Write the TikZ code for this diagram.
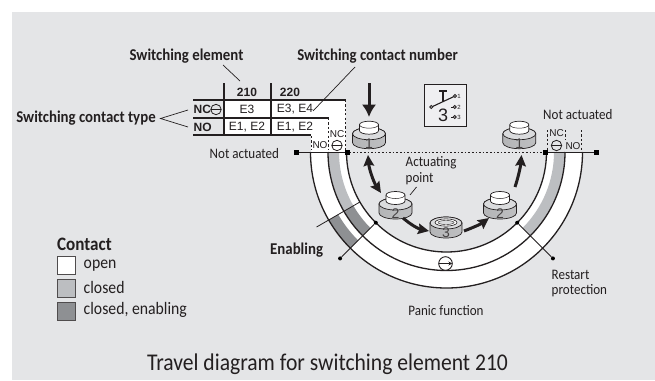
\documentclass[tikz,border=0pt]{standalone}
\usepackage{fontspec}
\setmainfont[FakeStretch=0.9]{Carlito}
\newfontfamily\arialf{Liberation Sans}
\usetikzlibrary{arrows.meta}
\definecolor{bgc}{HTML}{E4E5E7}
\definecolor{lightc}{HTML}{BCBEC1}
\definecolor{darkc}{HTML}{8E9093}
\definecolor{inkc}{HTML}{231F20}
\definecolor{cyld}{HTML}{B4B5B7}
\definecolor{cylm}{HTML}{EEEFF0}
\definecolor{cylr}{HTML}{BEBFC1}
\definecolor{cylt}{HTML}{DADBDD}
\tikzset{
  lab/.style={font=\fontsize{14.5}{16}\selectfont,text=inkc,inner sep=0pt,align=left},
  blab/.style={font=\fontsize{16.5}{18}\selectfont\bfseries,text=inkc,inner sep=0pt},
  cell/.style={font=\arialf\fontsize{12}{13}\selectfont,text=inkc,inner sep=0pt},
  bcell/.style={font=\arialf\bfseries\fontsize{12}{13}\selectfont,text=inkc,inner sep=0pt},
  smallcell/.style={font=\arialf\fontsize{10}{11}\selectfont,text=inkc,inner sep=0pt},
  ringline/.style={line width=1.3pt,inkc},
  tline/.style={line width=1.5pt,inkc},
  leader/.style={line width=0.7pt,inkc},
  dash1/.style={line width=1pt,inkc,dash pattern=on 2.2pt off 2.2pt},
  fat/.style={line width=3pt,inkc,-{Stealth[length=11pt,width=10.5pt,inset=1.5pt]}},
  fatb/.style={line width=3pt,inkc,{Stealth[length=11pt,width=10.5pt,inset=1.5pt]}-{Stealth[length=11pt,width=10.5pt,inset=1.5pt]}},
  sq/.style={fill=black,draw=none,minimum size=5pt,inner sep=0pt,outer sep=0pt},
  dotn/.style={circle,fill=black,draw=none,minimum size=4pt,inner sep=0pt},
  legbox/.style={draw=inkc!80,line width=1pt,minimum width=18pt,minimum height=18pt,inner sep=0pt},
  cylnum/.style={font=\arialf\fontsize{14}{14}\selectfont,text=inkc!85,inner sep=0pt}
}
% band: color, a1, a2, r1, r2
\newcommand{\myband}[5]{\fill[#1] (#2:#4pt) arc[start angle=#2,end angle=#3,radius=#4pt] -- (#3:#5pt) arc[start angle=#3,end angle=#2,radius=#5pt] -- cycle;}
% cylinder: name, x, top y (positive down), number
\newcommand{\mycyl}[4]{%
 \begin{scope}[shift={(#2,-#3)}]
  \shade[left color=cyld,middle color=cylm,right color=cylr,draw=inkc,line width=0.7pt]
    (-16.5,-13) -- (-16.5,-22) arc[start angle=180,end angle=360,x radius=16.5pt,y radius=6pt] -- (16.5,-13) arc[start angle=0,end angle=180,x radius=16.5pt,y radius=6pt] -- cycle;
  \draw[inkc,line width=0.7pt,fill=cylt] (-16.5,-13) arc[start angle=180,end angle=-180,x radius=16.5pt,y radius=6pt];
  \fill[white,draw=inkc,line width=0.7pt] (-9.5,-4) -- (-9.5,-10) arc[start angle=180,end angle=360,x radius=9.5pt,y radius=3.5pt] -- (9.5,-4) arc[start angle=0,end angle=180,x radius=9.5pt,y radius=3.5pt] -- cycle;
  \draw[inkc,line width=0.5pt] (-9.5,-4) arc[start angle=180,end angle=360,x radius=9.5pt,y radius=3.5pt];
  \node[cylnum] (#1) at (0,-22.5) {#4};
 \end{scope}}
\newcommand{\mypanic}[3]{%
 \draw[inkc,line width=0.8pt,fill=#3] (#1,-#2) circle (5.2pt);
 \draw[inkc,line width=0.8pt] (#1-5.2,-#2) -- (#1+5.2,-#2);}
\begin{document}
\begin{tikzpicture}[x=1pt,y=1pt]
\useasboundingbox (0,0) rectangle (655,-380);
\fill[bgc] (12,-12) rectangle (655,-380);

% table whites
\fill[white] (224,-100) -- (345.5,-100) -- (345.5,-152) -- (311,-152) -- (311,-135) -- (224,-135) -- cycle;

% rings
\begin{scope}[shift={(446.5,-152)}]
 \myband{white}{180}{360}{136}{100}
 \myband{lightc}{180}{210}{118.5}{107.5}
 \myband{darkc}{210}{225}{118.5}{107.5}
 \myband{darkc}{210}{225}{136}{125}
 \myband{lightc}{315}{360}{118.5}{107.5}
 \draw[ringline] (180:136pt) arc[start angle=180,end angle=360,radius=136pt];
 \draw[ringline] (180:118.5pt) arc[start angle=180,end angle=360,radius=118.5pt];
 \draw[ringline] (180:100pt) arc[start angle=180,end angle=360,radius=100pt];
 \coordinate (enA) at (210:150pt); \coordinate (enB) at (210:100pt);
 \coordinate (pa) at (225:150.5pt); \coordinate (pb) at (225:100pt);
 \coordinate (ra) at (315:100pt); \coordinate (rb) at (315:150.5pt);
\end{scope}
\draw[inkc,line width=0.8pt] (enA) -- (enB);
\node[dotn] (d1) at (pa) {}; \node[dotn] (d2) at (pb) {};
\node[dotn] (d3) at (ra) {}; \node[dotn] (d4) at (rb) {};
\draw[inkc,line width=0.8pt] (d1) -- (d2);
\draw[inkc,line width=0.8pt] (d3) -- (d4);

% table lines
\draw[tline] (193,-100) -- (345.5,-100);
\draw[tline] (193,-118) -- (328.5,-118);
\draw[tline] (193,-135) -- (311,-135);
\draw[tline] (224,-83) -- (224,-135);
\draw[tline] (271,-83) -- (271,-135);
\draw[dash1] (345.5,-100) -- (345.5,-150);
\draw[dash1] (328.5,-118) -- (328.5,-150);
\draw[dash1] (311,-136) -- (311,-150);
\draw[dash1] (547.5,-130) -- (547.5,-150);
\draw[dash1] (565,-130) -- (565,-140);
\draw[dash1] (581.5,-130) -- (581.5,-150);

% actuated line
\node[sq] (s1) at (296,-152) {};
\node[sq] (s2) at (347,-152) {};
\node[sq] (s3) at (545.5,-152) {};
\node[sq] (s4) at (596,-152) {};
\draw[inkc,line width=1pt] (s1) -- (s2);
\draw[inkc,line width=1pt] (s3) -- (s4);
\draw[inkc,line width=0.9pt,dash pattern=on 1.6pt off 2pt] (s2) -- (s3);

% table text
\node[blab] (t1) at (186.5,-56) {Switching element};
\node[blab] (t2) at (377.5,-56) {Switching contact number};
\node[blab] (t3) at (86,-118) {Switching contact type};
\node[bcell] (h1) at (247,-92) {210};
\node[bcell] (h2) at (290,-92) {220};
\node[bcell,anchor=west] (nc) at (193.5,-109.5) {NC};
\node[bcell,anchor=west] (no) at (193.5,-127) {NO};
\mypanic{216}{109.5}{none}
\node[cell] (c1) at (247,-109.5) {E3};
\node[cell] (c2) at (295,-109.5) {E3, E4};
\node[cell] (c3) at (247,-127) {E1, E2};
\node[cell] (c4) at (295,-127) {E1, E2};
\coordinate (l1a) at (223,-65); \coordinate (l1b) at (240,-81);
\draw[leader] (l1a) -- (l1b);
\coordinate (l2a) at (355,-67); \coordinate (l2b) at (313,-111);
\draw[leader] (l2a) -- (l2b);
\coordinate (l3) at (160.5,-118.5); \coordinate (l3a) at (188,-110); \coordinate (l3b) at (188,-127);
\draw[leader] (l3a) -- (l3) -- (l3b);

% NC/NO in contact rows
\node[smallcell] (n1) at (337,-134) {NC};
\node[smallcell] (n2) at (320,-145) {NO};
\mypanic{337}{145.5}{none}
\node[smallcell] (n3) at (556.5,-133.5) {NC};
\node[smallcell] (n4) at (573,-146) {NO};
\mypanic{556.5}{145.5}{none}

% panic symbol
\draw[inkc,line width=0.9pt,fill=white] (445.5,-263.5) circle (6.8pt);
\draw[inkc,line width=0.9pt,-{Stealth[length=3.5pt,width=4pt]}] (439,-263.5) -- (452,-263.5);

% cylinders
\mycyl{cy1}{369}{120.7}{1}
\mycyl{cy5}{519.3}{120.7}{1}
\mycyl{cy2}{395.5}{191}{2}
\mycyl{cy4}{500}{191}{2}
% cylinder 3
\begin{scope}[shift={(446,-217)}]
  \shade[left color=cyld,middle color=cylm,right color=cylr,draw=inkc,line width=0.7pt]
    (-16,-6) -- (-16,-15) arc[start angle=180,end angle=360,x radius=16pt,y radius=6pt] -- (16,-6) arc[start angle=0,end angle=180,x radius=16pt,y radius=6pt] -- cycle;
  \draw[inkc,line width=0.7pt,fill=cylt] (-16,-6) arc[start angle=180,end angle=-180,x radius=16pt,y radius=6pt];
  \draw[inkc,line width=0.6pt,fill=white] (0,-5.5) ellipse (11pt and 3.6pt);
  \draw[inkc,line width=0.4pt,fill=cylt] (0,-5.5) ellipse (8pt and 2pt);
  \node[cylnum] (cy3) at (0,-16) {3};
\end{scope}

% arrows
\coordinate (a0) at (369,-83); \coordinate (a1) at (369,-117);
\draw[line width=3pt,inkc,-{Latex[length=12.5pt,width=14.5pt]}] (a0) -- (a1);
\coordinate (b0) at (368,-155); \coordinate (b1) at (381,-193);
\draw[fatb] (b0) .. controls (369,-168) and (373,-181) .. (b1);
\coordinate (c0) at (403,-218); \coordinate (c1) at (429,-231);
\draw[fat] (c0) .. controls (411,-225) and (419,-229) .. (c1);
\coordinate (e0) at (464,-231); \coordinate (e1) at (489,-218);
\draw[fat] (e0) .. controls (472,-228) and (481,-224) .. (e1);
\coordinate (f0) at (515,-187); \coordinate (f1) at (521.5,-155);
\draw[fat] (f0) .. controls (518,-178) and (520.5,-167) .. (f1);

% symbol box
\node[draw=inkc,line width=1.5pt,fill=bgc!60!white,minimum width=42pt,minimum height=42pt,inner sep=0pt] (symb) at (445.5,-105.3) {};
\draw[inkc,line width=0.9pt,fill=white] (431.3,-107) circle (1.5pt);
\draw[inkc,line width=1.1pt] (432.6,-106.5) -- (453.8,-96.6);
\draw[inkc,line width=0.9pt,fill=white] (455,-96) circle (1.5pt);
\draw[inkc,line width=1.3pt] (439,-91) -- (447,-91) (443,-91) -- (443,-102);
\foreach \yy/\nn in {96/1,107/2,117/3}{
 \node[font=\arialf\fontsize{6}{6}\selectfont,text=inkc,inner sep=0pt] (sy\nn) at (459,-\yy) {\nn};}
\foreach \yy in {107,117}{
 \draw[inkc,line width=0.9pt] (451,-\yy) -- (453.3,-\yy);
 \draw[inkc,line width=0.9pt,fill=white] (454.8,-\yy) circle (1.5pt);}
\node[font=\arialf\fontsize{18}{18}\selectfont,text=inkc,inner sep=0pt] (sy) at (443,-115.5) {3};

% labels
\node[lab,anchor=west] (na1) at (209.5,-154) {Not actuated};
\node[lab,anchor=west] (na2) at (543,-114.5) {Not actuated};
\node[lab,anchor=west] (ap1) at (405.5,-163) {Actuating};
\node[lab,anchor=west] (ap2) at (405.5,-179) {point};
\coordinate (ap3) at (416.5,-187); \coordinate (ap4) at (410,-195);
\draw[leader] (ap3) -- (ap4);
\node[blab,anchor=west] (en) at (270,-250) {Enabling};
\node[lab,anchor=west] (re1) at (551.5,-275) {Restart};
\node[lab,anchor=west] (re2) at (551.5,-291) {protection};
\node[lab] (pf) at (446,-311) {Panic function};

% legend
\node[blab,anchor=west,font=\fontsize{19}{21}\selectfont\bfseries] (ct) at (57,-244) {Contact};
\node[legbox,fill=white] (k1) at (66.5,-265) {};
\node[legbox,fill=lightc] (k2) at (66.5,-288) {};
\node[legbox,fill=darkc] (k3) at (66.5,-311) {};
\node[lab,anchor=west,font=\fontsize{17.5}{20}\selectfont] (k1t) at (83.5,-265.5) {open};
\node[lab,anchor=west,font=\fontsize{17.5}{20}\selectfont] (k2t) at (83.5,-287.5) {closed};
\node[lab,anchor=west,font=\fontsize{17.5}{20}\selectfont] (k3t) at (83.5,-310) {closed, enabling};

\node[lab,font=\fontsize{24}{28}\selectfont] (title) at (327.5,-364.5) {Travel diagram for switching element 210};
\end{tikzpicture}
\end{document}
